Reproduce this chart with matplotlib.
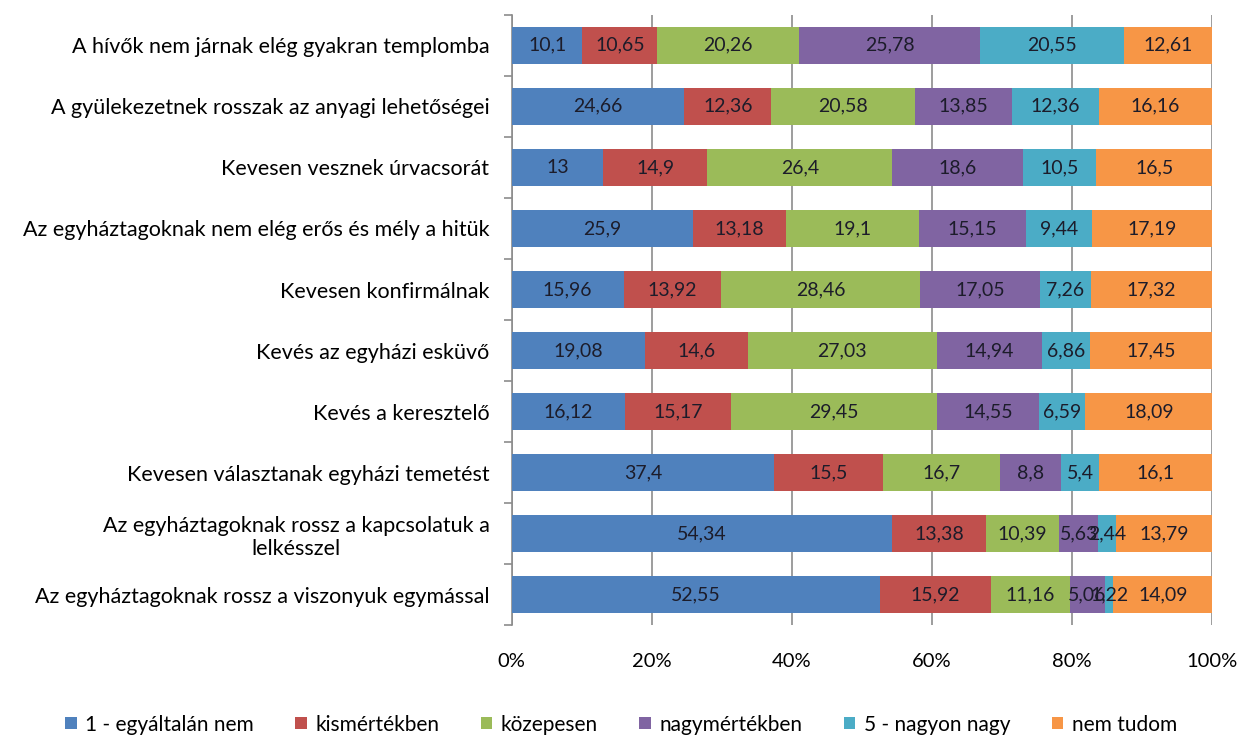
import numpy as np
import matplotlib.pyplot as plt
from matplotlib.ticker import FixedLocator, PercentFormatter

plt.rcParams['font.family'] = ['Lato', 'DejaVu Sans']

categories = [
    'A hívők nem járnak elég gyakran templomba',
    'A gyülekezetnek rosszak az anyagi lehetőségei',
    'Kevesen vesznek úrvacsorát',
    'Az egyháztagoknak nem elég erős és mély a hitük',
    'Kevesen konfirmálnak',
    'Kevés az egyházi esküvő',
    'Kevés a keresztelő',
    'Kevesen választanak egyházi temetést',
    'Az egyháztagoknak rossz a kapcsolatuk a\nlelkésszel',
    'Az egyháztagoknak rossz a viszonyuk egymással',
]

series = ['1 - egyáltalán nem', 'kismértékben', 'közepesen',
          'nagymértékben', '5 - nagyon nagy', 'nem tudom']

egyaltalan = [10.1, 24.66, 13, 25.9, 15.96, 19.08, 16.12, 37.4, 54.34, 52.55]
kis = [10.65, 12.36, 14.9, 13.18, 13.92, 14.6, 15.17, 15.5, 13.38, 15.92]
kozepes = [20.26, 20.58, 26.4, 19.1, 28.46, 27.03, 29.45, 16.7, 10.39, 11.16]
nagy = [25.78, 13.85, 18.6, 15.15, 17.05, 14.94, 14.55, 8.8, 5.63, 5.06]
nagyon_nagy = [20.55, 12.36, 10.5, 9.44, 7.26, 6.86, 6.59, 5.4, 2.44, 1.22]
nem_tudom = [12.61, 16.16, 16.5, 17.19, 17.32, 17.45, 18.09, 16.1, 13.79, 14.09]

colors = ['#4F81BD', '#C0504D', '#9BBB59', '#8064A2', '#4BACC6', '#F79646']

data = np.array([egyaltalan, kis, kozepes, nagy, nagyon_nagy, nem_tudom])
pct = data / data.sum(axis=0) * 100

fig = plt.figure(figsize=(12.42, 7.40), dpi=100)
ax = fig.add_axes([0.412, 0.155, 0.564, 0.825])

y = np.arange(len(categories))
left = np.zeros(len(categories))
for i, name in enumerate(series):
    bars = ax.barh(y, pct[i], left=left, height=0.6, color=colors[i],
                   label=name, zorder=3)
    for j, b in enumerate(bars):
        txt = f'{data[i, j]:g}'.replace('.', ',')
        ax.text(b.get_x() + b.get_width() / 2, b.get_y() + b.get_height() / 2,
                txt, ha='center', va='center', fontsize=14,
                color='#1c1c2a', zorder=4)
    left += pct[i]

ax.set_xlim(0, 100)
ax.set_ylim(len(categories) - 0.5, -0.5)
ax.xaxis.set_major_locator(FixedLocator([0, 20, 40, 60, 80, 100]))
ax.xaxis.set_major_formatter(PercentFormatter(decimals=0))
ax.grid(axis='x', color='#8c8c8c', linewidth=1.2, zorder=0)
ax.tick_params(axis='x', length=0, labelsize=14.5, pad=20)

ax.set_yticks(y)
ax.set_yticklabels(categories, fontsize=15.5, multialignment='center')
ax.tick_params(axis='y', which='major', length=0, pad=16)
ax.set_yticks(np.arange(-0.5, len(categories)), minor=True)
ax.tick_params(axis='y', which='minor', length=6, color='#8c8c8c', width=1.2)

for s in ['top', 'right', 'bottom']:
    ax.spines[s].set_visible(False)
ax.spines['left'].set_color('#8c8c8c')
ax.spines['left'].set_linewidth(1.2)

fig.legend(loc='lower center', bbox_to_anchor=(0.5, -0.018), ncol=6,
           frameon=False, fontsize=15, handlelength=0.55, handleheight=0.55,
           handletextpad=0.4, columnspacing=2.0)

fig.savefig('out.png', dpi=100)
